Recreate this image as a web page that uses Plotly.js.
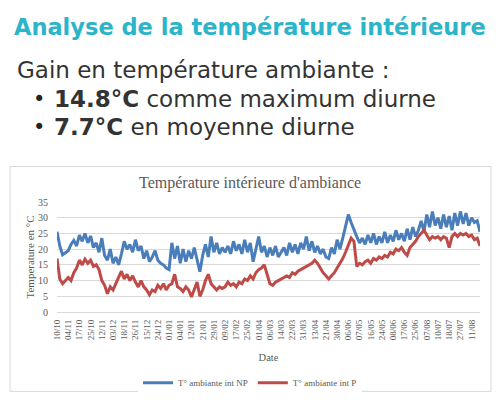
<!DOCTYPE html>
<html>
<head>
<meta charset="utf-8">
<script src="https://cdn.plot.ly/plotly-3.0.1.min.js"></script>
<style>
html,body{margin:0;padding:0;background:#fff;}
#chart{width:500px;height:410px;}
</style>
</head>
<body>
<div id="chart"></div>
<script>
// Tick labels (as printed on the category axis)
const tickLabels = ["10/10","04/11","17/10","25/10","12/11","03/12","18/11","26/11","15/12","24/12",
  "01/01","04/01","12/01","21/01","29/01","09/02","17/02","25/02","01/04","06/03",
  "14/03","22/03","31/03","13/04","21/04","30/04","06/06","07/05","16/05","24/05",
  "08/06","17/06","25/06","07/08","10/07","18/07","27/07","11/08"];
const pointsPerLabel = 4;

// T° ambiante int NP (blue)
const tempNP = [
 25.5,21.0,18.2,18.8,19.5,21.5,22.8,21.0,24.5,22.5,
 25.0,22.0,24.2,20.5,22.0,19.0,23.5,18.0,16.5,20.0,
 15.5,17.5,15.0,18.5,22.5,20.0,21.5,19.0,23.0,19.5,
 21.0,17.0,19.5,16.0,17.5,19.5,16.5,15.5,15.0,14.0,
 13.5,22.0,17.0,21.0,15.5,20.0,16.0,19.5,17.0,20.5,
 16.5,12.8,18.0,21.5,17.5,24.0,19.0,22.0,18.5,20.5,
 19.0,21.0,18.5,22.5,19.5,21.5,18.5,23.0,19.0,22.0,
 16.0,20.5,24.0,19.0,21.0,17.5,20.5,18.0,21.0,17.5,
 19.0,20.5,18.0,22.0,19.0,21.5,18.5,22.0,20.0,24.0,
 19.5,22.5,19.0,21.0,18.5,20.0,17.5,17.0,20.5,18.5,
 23.0,20.0,23.5,27.0,31.0,28.5,26.0,24.0,22.0,23.5,
 21.5,24.5,22.0,25.0,21.5,24.0,22.0,25.5,22.0,24.5,
 22.5,26.0,23.0,25.0,22.5,26.5,23.0,27.0,24.0,26.0,
 29.0,25.5,31.0,27.0,32.0,27.5,30.0,26.5,31.0,27.0,
 30.5,26.0,31.5,27.5,32.0,28.0,31.5,27.5,30.0,28.5,
 29.0,25.5
];

// T° ambiante int P (red)
const tempP = [
 17.0,10.5,9.0,10.0,11.0,10.0,12.5,14.0,16.5,15.0,
 16.8,15.5,16.5,14.5,15.0,13.5,10.0,8.5,5.8,8.0,
 7.0,9.0,11.0,13.0,10.5,12.0,10.0,11.5,9.5,8.0,
 10.0,8.0,7.0,5.5,7.0,6.5,8.5,7.5,9.0,7.0,
 8.5,9.0,12.0,8.0,7.5,6.5,8.0,7.0,4.8,7.0,
 9.5,5.0,7.0,10.0,12.0,9.0,8.0,7.0,8.0,7.5,
 8.0,9.5,8.5,9.0,8.0,9.5,9.0,10.5,10.0,11.5,
 10.5,12.5,13.5,14.0,15.0,12.0,9.0,8.5,9.5,10.0,
 10.5,11.0,11.5,11.0,12.5,12.0,13.0,13.5,14.0,14.5,
 15.0,15.5,16.5,15.5,14.0,12.5,11.5,10.5,11.5,12.5,
 14.0,15.5,17.0,19.0,21.0,23.5,22.5,14.5,15.5,15.0,
 16.0,16.5,15.5,17.0,16.5,17.5,17.0,18.0,17.5,19.0,
 18.5,20.0,19.5,20.5,19.0,18.0,20.5,21.5,22.5,24.0,
 25.0,26.0,24.5,23.0,24.0,23.5,24.0,23.0,24.0,23.5,
 20.5,24.0,25.0,24.0,25.0,24.5,25.0,24.0,24.5,23.0,
 23.5,21.0
];

const seriesNames = ["T° ambiante int NP", "T° ambiante int P"];
const chartTitle = "Température intérieure d'ambiance";
const yTitle = "Temperature en °C";
const xTitle = "Date";
const heading = "Analyse de la température intérieure";
const intro = "Gain en température ambiante :";
const bullets = ["<b>14.8°C</b> comme maximum diurne", "<b>7.7°C</b> en moyenne diurne"];

const idx = tempNP.map((_, i) => i);
const tickvals = tickLabels.map((_, i) => i * pointsPerLabel);

// plot area geometry (pixels)
const W = 500, H = 410;
const L = 57, R = 20, T = 202, B = 93;
const pw = W - L - R, ph = H - T - B;
const xp = px => (px - L) / pw;
const yp = py => (H - B - py) / ph;

const serif = "Liberation Serif, DejaVu Serif, serif";
const sans = "DejaVu Sans, sans-serif";
const gray = "#595959";

const traces = [
  {x: idx, y: tempNP, name: seriesNames[0], type: "scatter", mode: "lines",
   line: {color: "#4a7ebb", width: 3}},
  {x: idx, y: tempP, name: seriesNames[1], type: "scatter", mode: "lines",
   line: {color: "#be4b48", width: 3}}
];

const annotations = [
  {text: heading, x: xp(250), y: yp(19), xanchor: "center", yanchor: "middle",
   font: {family: sans, size: 22.5, color: "#2cb4c9", weight: 700}},
  {text: intro, x: xp(15), y: yp(64), xanchor: "left", yanchor: "middle",
   font: {family: sans, size: 23, color: "#333333"}},
  {text: "•", x: xp(39), y: yp(94), xanchor: "center", yanchor: "middle",
   font: {family: sans, size: 21, color: "#222222"}},
  {text: bullets[0], x: xp(52), y: yp(94), xanchor: "left", yanchor: "middle",
   font: {family: sans, size: 23, color: "#333333"}},
  {text: "•", x: xp(39), y: yp(124), xanchor: "center", yanchor: "middle",
   font: {family: sans, size: 21, color: "#222222"}},
  {text: bullets[1], x: xp(52), y: yp(124), xanchor: "left", yanchor: "middle",
   font: {family: sans, size: 23, color: "#333333"}},
  {text: chartTitle, x: xp(250), y: yp(182), xanchor: "center", yanchor: "middle",
   font: {family: serif, size: 16, color: gray}}
].map(a => Object.assign({xref: "paper", yref: "paper", showarrow: false}, a));

const layout = {
  width: W, height: H,
  margin: {l: L, r: R, t: T, b: B, pad: 0},
  paper_bgcolor: "#ffffff", plot_bgcolor: "#ffffff",
  showlegend: true,
  legend: {orientation: "h", x: xp(250), xanchor: "center", y: yp(391), yanchor: "middle",
           font: {family: serif, size: 9, color: gray}, itemwidth: 30, tracegroupgap: 0},
  xaxis: {range: [0, tempNP.length - 1], tickmode: "array", tickvals: tickvals, ticktext: tickLabels,
          tickangle: -90, tickfont: {family: serif, size: 9, color: gray}, showgrid: false,
          zeroline: false, showline: false, ticks: "", ticklabelstandoff: 5,
          title: {text: xTitle, font: {family: serif, size: 10.5, color: gray}, standoff: 14}},
  yaxis: {range: [0, 35], dtick: 5, tickfont: {family: serif, size: 10, color: gray},
          gridcolor: "#d9d9d9", gridwidth: 1, zeroline: true, zerolinecolor: "#d9d9d9", zerolinewidth: 1,
          showline: false, ticks: "", ticklabelstandoff: 8,
          title: {text: yTitle, font: {family: serif, size: 11, color: gray}, standoff: 1}},
  shapes: [{type: "rect", xref: "paper", yref: "paper", x0: xp(10), x1: xp(491), y0: yp(400), y1: yp(165),
            line: {color: "#d9d9d9", width: 1}, fillcolor: "rgba(0,0,0,0)", layer: "below"}],
  annotations: annotations
};

Plotly.newPlot("chart", traces, layout, {displayModeBar: false, staticPlot: true});
</script>
</body>
</html>
